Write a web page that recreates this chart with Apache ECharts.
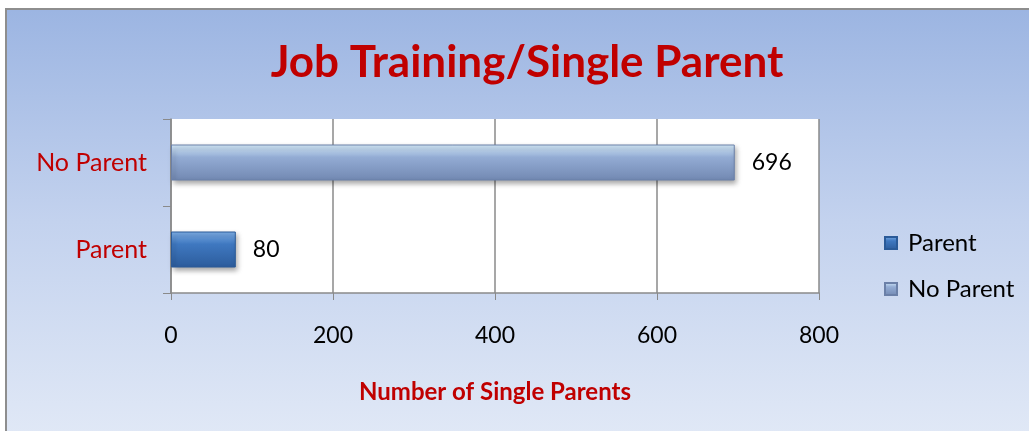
<!DOCTYPE html>
<html>
<head>
<meta charset="utf-8">
<script src="https://cdn.jsdelivr.net/npm/echarts@6/dist/echarts.min.js"></script>
<style>
    html, body { margin: 0; padding: 0; background: #fff; overflow: hidden; }
    #chart {
        position: absolute;
        left: 5px;
        top: 8px;
        width: 1024px;
        height: 423px;
        border-left: 2px solid #8e8e8e;
        border-top: 2px solid #8e8e8e;
        background: linear-gradient(to bottom, #9cb5e2 0%, #c3d2ee 50%, #e0e8f6 100%);
    }
</style>
</head>
<body>
<div id="chart"></div>
<script>
// data
const categories = ['Parent', 'No Parent']
const parentValues = [80, '-']
const noParentValues = ['-', 696]
const xTicks = [0, 200, 400, 600, 800]

const font = 'Lato, "Open Sans", sans-serif'

function grad(top, mid, bottom) {
    return new echarts.graphic.LinearGradient(0, 0, 0, 1, [
        { offset: 0, color: top },
        { offset: 0.35, color: mid },
        { offset: 1, color: bottom }
    ])
}

let myChart = echarts.init(document.getElementById('chart'))
let option = {
    backgroundColor: 'transparent',
    title: {
        text: 'Job Training/Single Parent',
        left: 515,
        textAlign: 'center',
        top: 26,
        textStyle: {
            color: '#c00000',
            fontSize: 44,
            fontWeight: 'bold',
            fontFamily: font
        }
    },
    legend: {
        orient: 'vertical',
        left: 872,
        top: 216,
        itemWidth: 12,
        itemHeight: 12,
        itemGap: 22,
        icon: 'rect',
        data: ['Parent', 'No Parent'],
        textStyle: { color: '#000', fontSize: 24, fontFamily: font, padding: [0, 0, 0, 6] }
    },
    grid: {
        left: 164,
        right: 212,
        top: 109,
        bottom: 140,
        show: true,
        backgroundColor: '#fff',
        borderWidth: 0
    },
    xAxis: {
        type: 'value',
        min: 0,
        max: 800,
        interval: 200,
        name: 'Number of Single Parents',
        nameLocation: 'middle',
        nameGap: 87,
        nameTextStyle: { color: '#c00000', fontSize: 24, fontWeight: 'bold', fontFamily: font },
        axisLine: { show: true, lineStyle: { color: '#8a8a8a', width: 1.5 } },
        axisTick: { show: true, length: 7, lineStyle: { color: '#8a8a8a' } },
        axisLabel: {
            color: '#000', fontSize: 23, margin: 31, fontFamily: font,
            formatter: function (v) { return xTicks.indexOf(v) >= 0 ? v : '' }
        },
        splitLine: { show: true, lineStyle: { color: '#8a8a8a', width: 1.5 } }
    },
    yAxis: {
        type: 'category',
        data: categories,
        axisLine: { show: true, lineStyle: { color: '#8a8a8a', width: 1.5 } },
        axisTick: { show: true, length: 8, lineStyle: { color: '#8a8a8a' } },
        axisLabel: { color: '#c00000', fontSize: 25, margin: 24, fontFamily: font }
    },
    series: [
        {
            name: 'Parent',
            type: 'bar',
            stack: 'all',
            data: parentValues,
            barWidth: 36,
            itemStyle: {
                color: grad('#7fb0e8', '#3f78c0', '#2c5c9c'),
                borderColor: '#2a5a98',
                borderWidth: 1,
                shadowColor: 'rgba(0,0,0,0.35)',
                shadowBlur: 5,
                shadowOffsetX: 2,
                shadowOffsetY: 3
            },
            label: {
                show: true, position: 'right', distance: 17,
                color: '#000', fontSize: 23, fontFamily: font
            }
        },
        {
            name: 'No Parent',
            type: 'bar',
            stack: 'all',
            data: noParentValues,
            barWidth: 36,
            itemStyle: {
                color: grad('#d6ecfb', '#93acd4', '#7288b2'),
                borderColor: '#6b80a8',
                borderWidth: 1,
                shadowColor: 'rgba(0,0,0,0.35)',
                shadowBlur: 5,
                shadowOffsetX: 2,
                shadowOffsetY: 3
            },
            label: {
                show: true, position: 'right', distance: 17,
                color: '#000', fontSize: 23, fontFamily: font
            }
        }
    ]
}
myChart.setOption(option)
</script>
</body>
</html>
